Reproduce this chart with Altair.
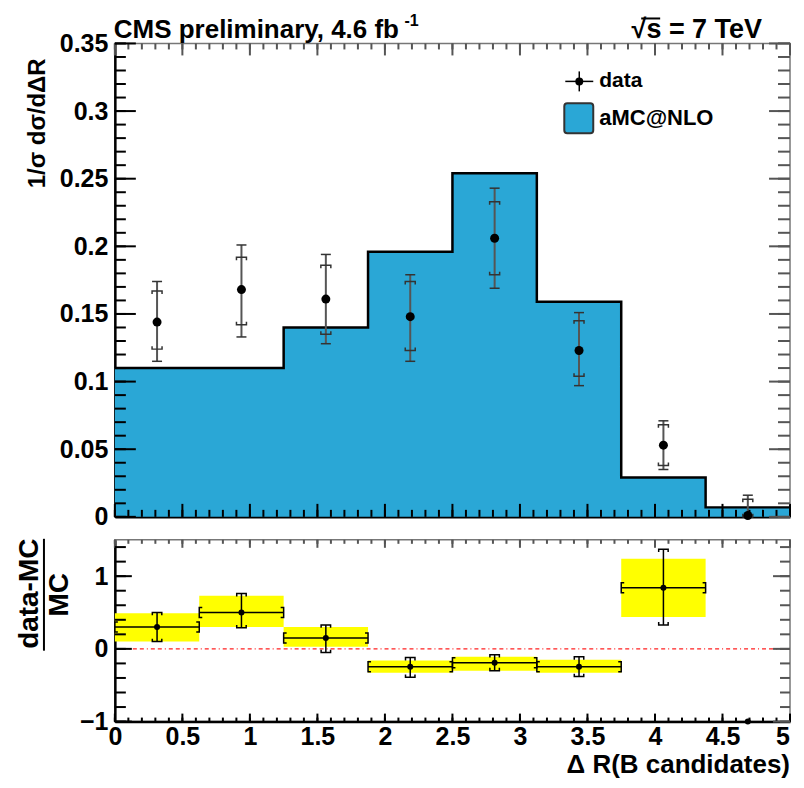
import altair as alt
import pandas as pd

# ---------------- data ----------------
edges = [0.0, 0.625, 1.25, 1.875, 2.5, 3.125, 3.75, 4.375, 5.0]
mc_vals = [0.110, 0.110, 0.140, 0.196, 0.254, 0.159, 0.029, 0.007]
data_vals = [0.144, 0.168, 0.161, 0.148, 0.206, 0.123, 0.053, 0.001]
tot_hi = [0.174, 0.201, 0.194, 0.179, 0.243, 0.151, 0.071, 0.016]
tot_lo = [0.115, 0.133, 0.128, 0.115, 0.169, 0.097, 0.035, 0.0]
stat_hi = [0.167, 0.192, 0.186, 0.174, 0.233, 0.145, 0.068, 0.013]
stat_lo = [0.124, 0.142, 0.135, 0.123, 0.179, 0.104, 0.038, 0.0]

ratio_vals = [0.30, 0.50, 0.15, -0.245, -0.19, -0.245, 0.84, -1.0]
ratio_err_hi = [0.50, 0.76, 0.33, -0.12, -0.08, -0.11, 1.37, None]
ratio_err_lo = [0.10, 0.29, -0.05, -0.39, -0.30, -0.38, 0.33, None]
band_hi = [0.49, 0.73, 0.30, -0.16, -0.11, -0.15, 1.24, None]
band_lo = [0.10, 0.30, 0.03, -0.33, -0.30, -0.33, 0.44, None]

x_labels = [0, 0.5, 1, 1.5, 2, 2.5, 3, 3.5, 4, 4.5, 5]
x_minor = [round(i * 0.1, 2) for i in range(51)]
y1_labels = [0, 0.05, 0.1, 0.15, 0.2, 0.25, 0.3, 0.35]
y1_minor = [round(i * 0.01, 2) for i in range(36)]
y2_labels = [-1, 0, 1]
y2_minor = [round(-1 + i * 0.2, 2) for i in range(13)]

title_left = "CMS preliminary, 4.6 fb"
title_sup = "-1"
title_right = "√s = 7 TeV"
legend_data = "data"
legend_mc = "aMC@NLO"
ytitle_top = "1/σ dσ/dΔR"
ytitle_bot_num = "data-MC"
ytitle_bot_den = "MC"
xtitle = "Δ R(B candidates)"

# ---------------- styles ----------------
FONT = "Liberation Sans"
BOLD = "bold"
BLUE = "#2aa7d6"
YELLOW = "#ffff00"
W, H1, H2 = 676, 474, 182

TCAP = "M -1 0 L 1 0"
BR_TOP = "M -1 0.6 L -1 0 L 1 0 L 1 0.6"
BR_BOT = "M -1 -0.6 L -1 0 L 1 0 L 1 -0.6"
BR_L = "M 0.6 -1 L 0 -1 L 0 1 L 0.6 1"
BR_R = "M -0.6 -1 L 0 -1 L 0 1 L -0.6 1"

centers = [(a + b) / 2 for a, b in zip(edges[:-1], edges[1:])]

df_step = pd.DataFrame({"x": edges, "y": mc_vals + [mc_vals[-1]]})
df_bins = pd.DataFrame({
    "c": centers, "v": data_vals, "thi": tot_hi, "tlo": tot_lo,
    "shi": stat_hi, "slo": stat_lo,
})
df_r = pd.DataFrame({
    "c": centers, "lo": edges[:-1], "hi": edges[1:], "r": ratio_vals,
    "ehi": ratio_err_hi, "elo": ratio_err_lo, "bhi": band_hi, "blo": band_lo,
})
df_rb = df_r.dropna()

xs = alt.Scale(domain=[0, 5], nice=False, zero=False)
ys1 = alt.Scale(domain=[0, 0.35], nice=False)
ys2 = alt.Scale(domain=[-1, 1.5], nice=False)

ax_x1 = alt.Axis(values=x_labels, labels=False, ticks=False, grid=False,
                 domainColor="black", domainWidth=2.5, title=None)
ax_x2 = alt.Axis(values=x_labels[:-1], format="~g", ticks=False, grid=False,
                 labelPadding=3, labelFontSize=25, labelFontWeight=BOLD,
                 labelFlush=False, domainColor="black", domainWidth=2.5, title=None)
ax_y1 = alt.Axis(values=y1_labels, format="~g", ticks=False, grid=False,
                 labelPadding=7, labelFontSize=25, labelFontWeight=BOLD,
                 domainColor="black", domainWidth=2.5, title=None)
ax_y2 = alt.Axis(values=y2_labels, format="~g", ticks=False, grid=False,
                 labelPadding=7, labelFontSize=25, labelFontWeight=BOLD,
                 domainColor="black", domainWidth=2.5, title=None)


def X1(f):
    return alt.X(f, type="quantitative", scale=xs, axis=ax_x1)


def Y1(f):
    return alt.Y(f, type="quantitative", scale=ys1, axis=ax_y1)


def X2(f):
    return alt.X(f, type="quantitative", scale=xs, axis=ax_x2)


def Y2(f):
    return alt.Y(f, type="quantitative", scale=ys2, axis=ax_y2)


def txt(label, x, y, size, align="left", baseline="alphabetic", angle=0, weight=BOLD):
    return alt.Chart(pd.DataFrame({"t": [label]})).mark_text(
        align=align, baseline=baseline, fontSize=size, angle=angle,
        font=FONT, fontWeight=weight, color="black"
    ).encode(x=alt.value(x), y=alt.value(y), text="t:N")


def xticks(vals, Xf, y0, length, color):
    return alt.Chart(pd.DataFrame({"v": vals})).mark_rule(
        color=color, strokeWidth=2).encode(
        x=Xf("v"), y=alt.value(y0), y2=alt.value(y0 + length))


def yticks(vals, Yf, x0, length, color):
    return alt.Chart(pd.DataFrame({"v": vals})).mark_rule(
        color=color, strokeWidth=2).encode(
        y=Yf("v"), x=alt.value(x0), x2=alt.value(x0 + length))


def sym(df, shape, xf, yf, Xf, Yf, size=100, color="black", sw=1.5):
    return alt.Chart(df).mark_point(shape=shape, size=size, filled=False,
                                    color=color, strokeWidth=sw, opacity=1).encode(
        x=Xf(xf), y=Yf(yf))


# ---------------- top panel ----------------
area = alt.Chart(df_step).mark_area(interpolate="step-after", color=BLUE, opacity=1).encode(
    x=X1("x"), y=Y1("y"))
outline = alt.Chart(df_step).mark_line(interpolate="step-after", color="black",
                                       strokeWidth=2.5).encode(x=X1("x"), y=Y1("y"))
err = alt.Chart(df_bins).mark_rule(color="#555", strokeWidth=2).encode(
    x=X1("c"), y=Y1("tlo"), y2=alt.Y2("thi"))
cap_hi = sym(df_bins, TCAP, "c", "thi", X1, Y1, color="#333")
cap_lo = sym(df_bins, TCAP, "c", "tlo", X1, Y1, color="#333")
br_hi = sym(df_bins, BR_TOP, "c", "shi", X1, Y1, color="#333")
br_lo = sym(df_bins, BR_BOT, "c", "slo", X1, Y1, color="#333")
pts = alt.Chart(df_bins).mark_point(filled=True, shape="circle", size=81, color="black",
                                    opacity=1).encode(x=X1("c"), y=Y1("v"))

top_ticks = [
    xticks(x_labels, X1, H1, -13, "black"),
    xticks(x_minor, X1, H1, -7, "black"),
    xticks(x_labels, X1, 0, 12, "#555"),
    xticks(x_minor, X1, 0, 6, "#555"),
    yticks(y1_labels, Y1, 0, 21, "black"),
    yticks(y1_minor, Y1, 0, 11, "black"),
    yticks(y1_labels, Y1, W, -21, "#555"),
    yticks(y1_minor, Y1, W, -12, "#555"),
]

leg_box = alt.Chart(pd.DataFrame({"a": [0]})).mark_rect(
    fill=BLUE, stroke="#333", strokeWidth=2, cornerRadius=3).encode(
    x=alt.value(450), x2=alt.value(479), y=alt.value(60), y2=alt.value(90))
leg_h = alt.Chart(pd.DataFrame({"a": [0]})).mark_rule(color="black", strokeWidth=1.5).encode(
    x=alt.value(451), x2=alt.value(479), y=alt.value(38))
leg_v = alt.Chart(pd.DataFrame({"a": [0]})).mark_rule(color="black", strokeWidth=1.5).encode(
    x=alt.value(465), y=alt.value(28), y2=alt.value(48))
leg_p = alt.Chart(pd.DataFrame({"a": [0]})).mark_point(
    filled=True, shape="circle", size=64, color="black", opacity=1).encode(
    x=alt.value(465), y=alt.value(38))
sqrt_bar = alt.Chart(pd.DataFrame({"a": [0]})).mark_rule(color="black", strokeWidth=2).encode(
    x=alt.value(527), x2=alt.value(546), y=alt.value(-25))

top = alt.layer(
    area, outline, err, cap_hi, cap_lo, br_hi, br_lo, pts, *top_ticks,
    leg_box, leg_h, leg_v, leg_p,
    txt(legend_data, 485, 38, 21, baseline="middle"),
    txt(legend_mc, 485, 75, 22, baseline="middle"),
    txt(title_left, -1, -5, 26),
    txt(title_sup, 290, -17, 16),
    txt(title_right, 648, -5, 27, align="right"),
    sqrt_bar,
    txt(ytitle_top, -77, 80, 24, align="center", baseline="middle", angle=270),
).properties(width=W, height=H1)

# ---------------- ratio panel ----------------
band = alt.Chart(df_rb).mark_rect(color=YELLOW, opacity=1).encode(
    x=X2("lo"), x2=alt.X2("hi"), y=Y2("blo"), y2=alt.Y2("bhi"))
zero = alt.Chart(pd.DataFrame({"z": [0.0]})).mark_rule(
    color="#ff2020", strokeWidth=1.5, strokeDash=[4, 3, 4, 3, 1, 3]).encode(
    y=Y2("z"), x=alt.value(0), x2=alt.value(W))
hbar = alt.Chart(df_rb).mark_rule(color="black", strokeWidth=1.5).encode(
    x=X2("lo"), x2=alt.X2("hi"), y=Y2("r"))
vbar = alt.Chart(df_rb).mark_rule(color="black", strokeWidth=1.5).encode(
    x=X2("c"), y=Y2("elo"), y2=alt.Y2("ehi"))
bl = sym(df_rb, BR_L, "lo", "r", X2, Y2)
brr = sym(df_rb, BR_R, "hi", "r", X2, Y2)
bt = sym(df_rb, BR_TOP, "c", "ehi", X2, Y2, size=90)
bb = sym(df_rb, BR_BOT, "c", "elo", X2, Y2, size=90)
rpts = alt.Chart(df_r).mark_point(filled=True, shape="circle", size=36, color="black",
                                  opacity=1).encode(x=X2("c"), y=Y2("r"))

bot_ticks = [
    xticks(x_labels, X2, H2, -8, "black"),
    xticks(x_minor, X2, H2, -4, "black"),
    xticks(x_labels, X2, 0, 8, "#555"),
    xticks(x_minor, X2, 0, 4, "#555"),
    yticks(y2_labels, Y2, 0, 17, "black"),
    yticks(y2_minor, Y2, 0, 11, "black"),
    yticks(y2_labels, Y2, W, -17, "#555"),
    yticks(y2_minor, Y2, W, -10, "#555"),
]

last_label = alt.Chart(pd.DataFrame({"v": x_labels[-1:]})).mark_text(
    align="right", baseline="top", fontSize=25, font=FONT, fontWeight=BOLD,
    color="black").encode(x=X2("v"), y=alt.value(H2 + 3), text=alt.Text("v:Q", format="~g"))

frac_bar = alt.Chart(pd.DataFrame({"a": [0]})).mark_rule(color="black", strokeWidth=2).encode(
    x=alt.value(-71), y=alt.value(-1), y2=alt.value(111))

bottom = alt.layer(
    band, zero, hbar, vbar, bl, brr, bt, bb, rpts, *bot_ticks, last_label,
    txt(ytitle_bot_num, -85, 54, 28, align="center", baseline="middle", angle=270),
    txt(ytitle_bot_den, -55, 55, 28, align="center", baseline="middle", angle=270),
    frac_bar,
    txt(xtitle, W, H2 + 51, 26, align="right"),
).properties(width=W, height=H2)

chart = alt.vconcat(top, bottom, spacing=23, bounds="flush").properties(
    padding={"left": 7, "top": 4, "right": 0, "bottom": 0}
).configure_view(stroke="#777", strokeWidth=1.5).configure_axis(
    labelFont=FONT, labelColor="black", grid=False
)

chart.save("out.html", embed_options={"renderer": "svg", "actions": False})
